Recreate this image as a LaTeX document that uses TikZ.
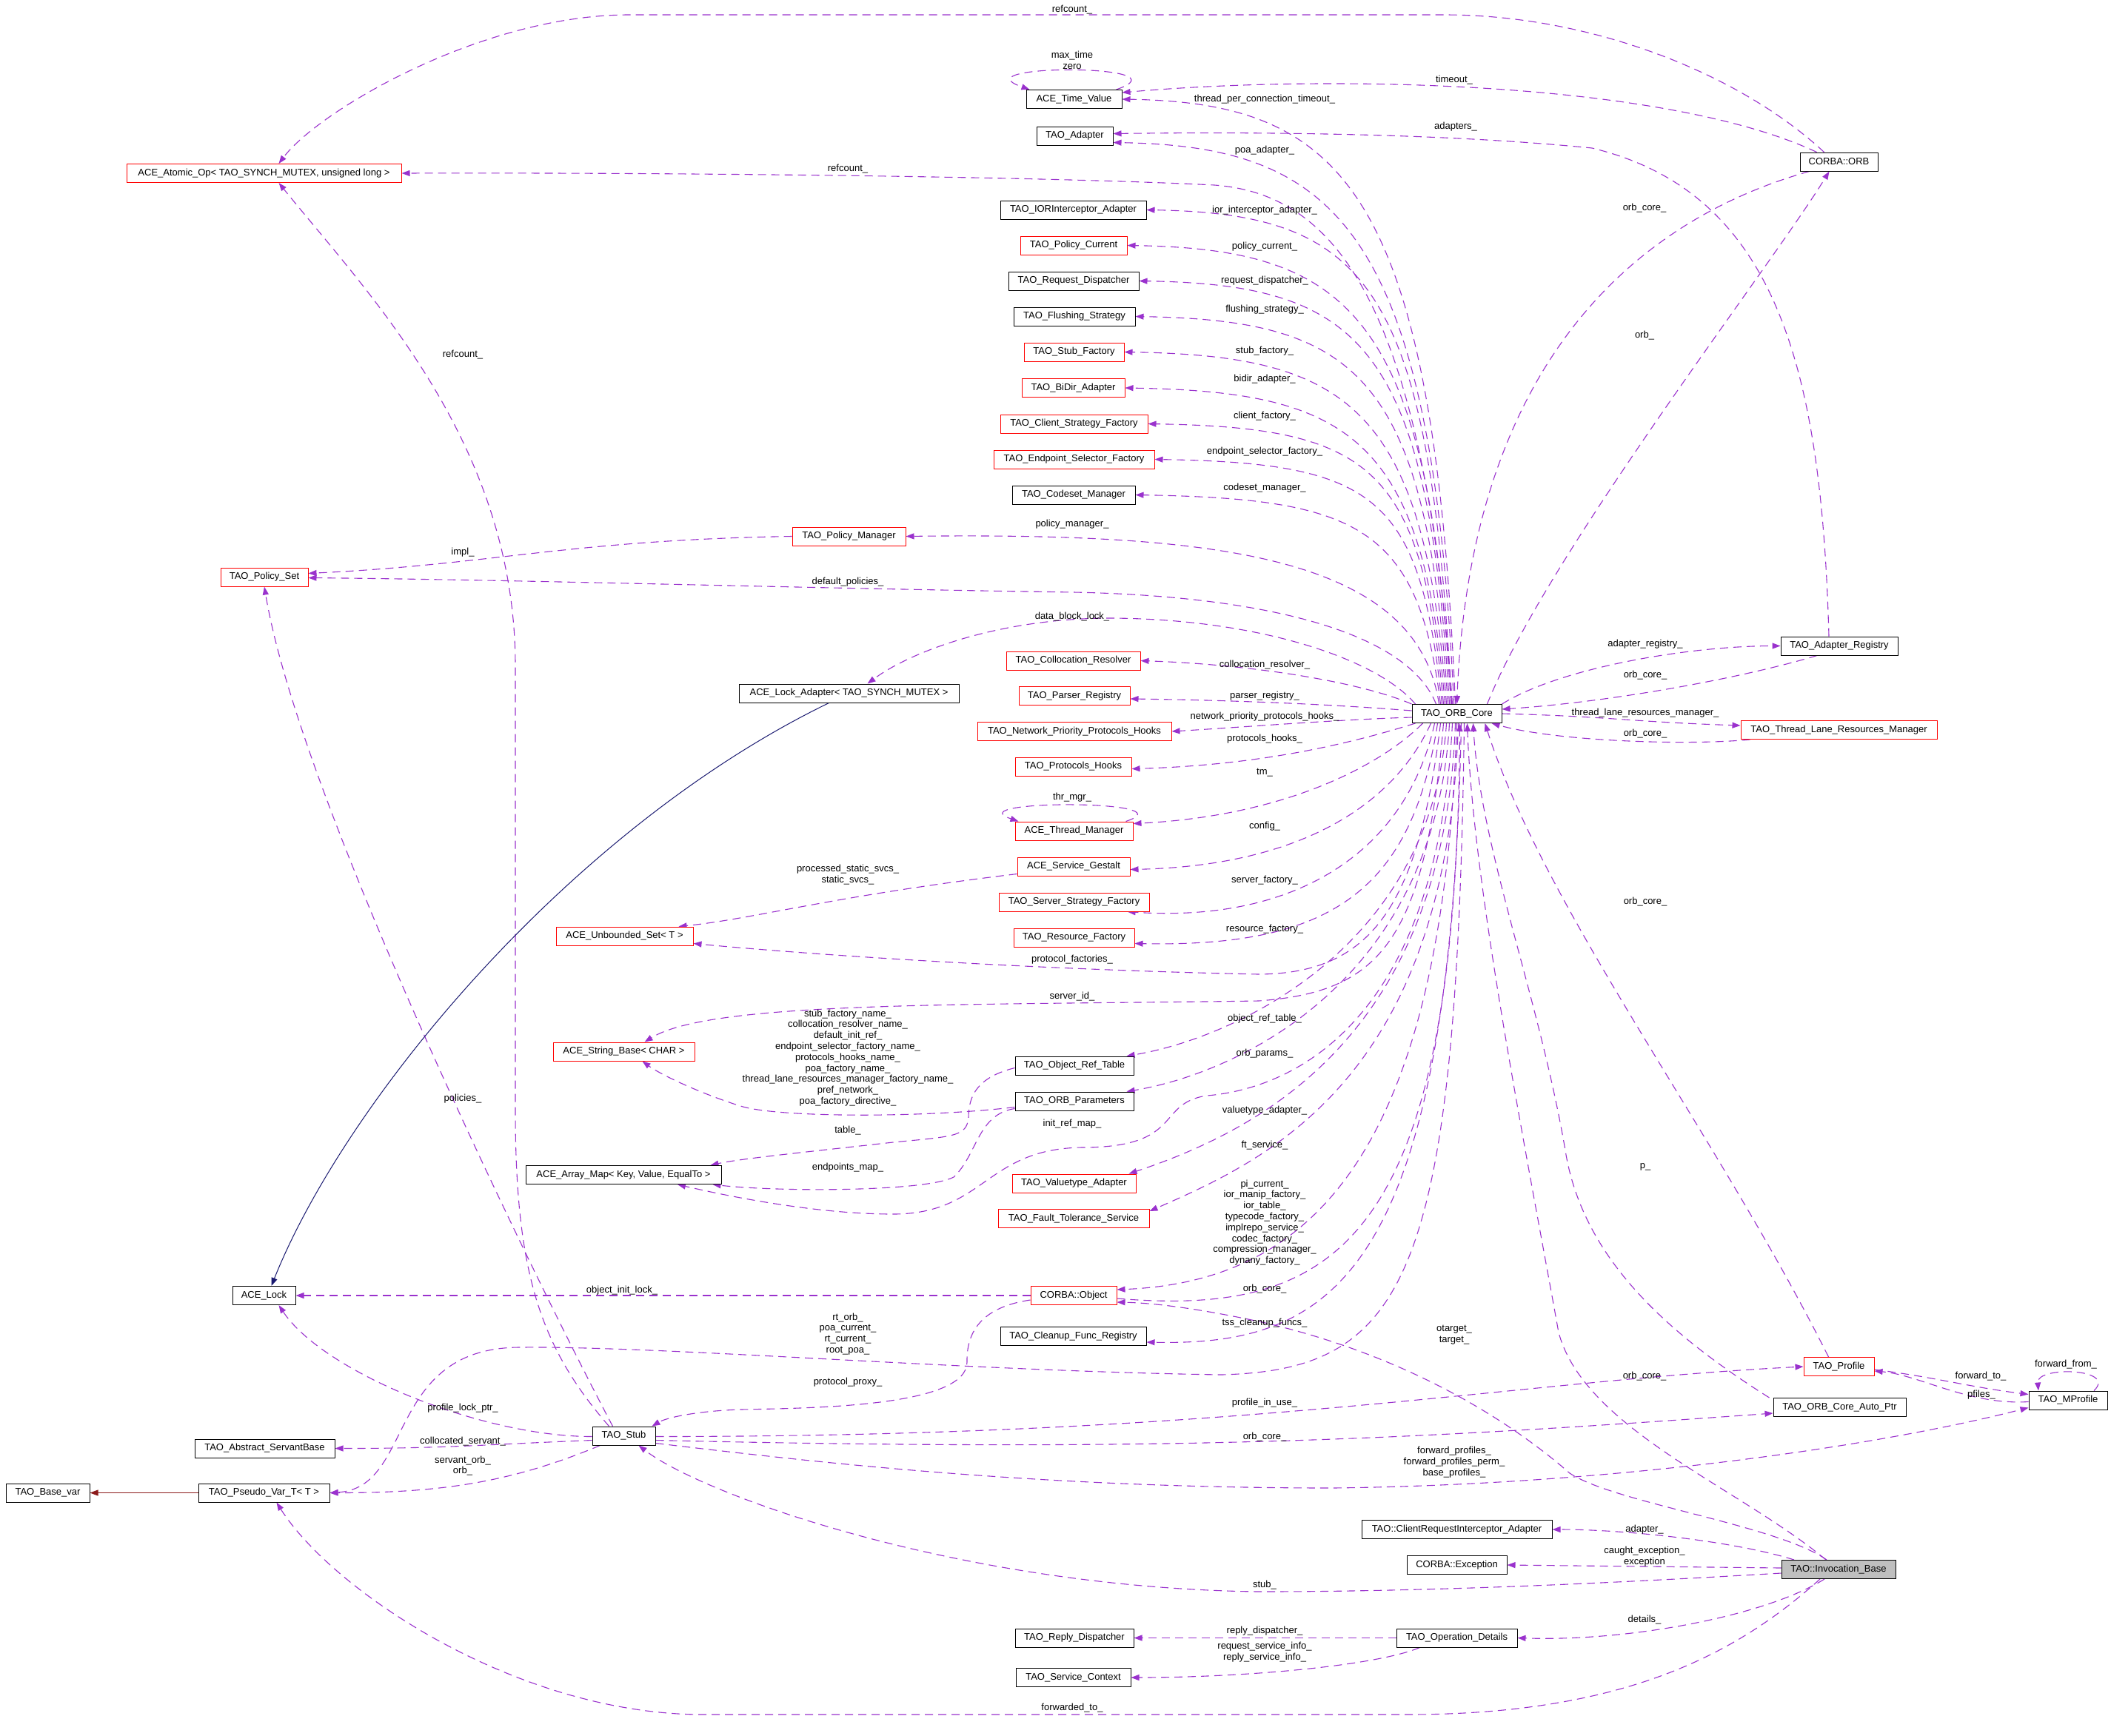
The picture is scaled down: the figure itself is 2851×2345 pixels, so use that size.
\documentclass[tikz,border=0pt]{standalone}
\usepackage{fontspec}
\newfontfamily\dgfont{Liberation Sans}
\usetikzlibrary{arrows.meta,backgrounds}
\definecolor{usecol}{HTML}{9A32CD}
\definecolor{inhcol}{HTML}{191970}
\definecolor{privcol}{HTML}{8B1A1A}
\definecolor{mainfill}{HTML}{BFBFBF}
\newcommand\dgf{\dgfont\fontsize{13}{14.8}\selectfont}
\begin{document}
\begin{tikzpicture}[x=1pt,y=-1pt,
  cls/.style={draw=black, line width=1pt, fill=white, minimum height=25pt, inner sep=0pt, font=\dgf},
  clsr/.style={cls, draw=red},
  usea/.style={draw=usecol, line width=1.1pt, dash pattern=on 11pt off 7pt, -{Triangle[length=11pt,width=8pt]}},
  inha/.style={draw=inhcol, line width=1pt, -{Triangle[length=11pt,width=8pt]}},
  priva/.style={draw=privcol, line width=1pt, -{Triangle[length=11pt,width=8pt]}},
  lab/.style={font=\dgf, inner sep=0pt, align=center}]
\path[use as bounding box] (0,0) rectangle (2851,2345);

% ---------------- nodes ----------------
\node[clsr, minimum width=371pt] (atomic) at (356.5,234) {ACE\_Atomic\_Op< TAO\_SYNCH\_MUTEX, unsigned long >};
\node[clsr, minimum width=118pt] (policyset) at (357,779.5) {TAO\_Policy\_Set};
\node[cls, minimum width=129pt] (timevalue) at (1450.5,134) {ACE\_Time\_Value};
\node[cls, minimum width=103pt] (adapter) at (1451.5,183.5) {TAO\_Adapter};
\node[cls, minimum width=197pt] (iorint) at (1449.5,283.5) {TAO\_IORInterceptor\_Adapter};
\node[clsr, minimum width=144pt] (polcur) at (1450,331.5) {TAO\_Policy\_Current};
\node[cls, minimum width=176pt] (reqdisp) at (1450,379.5) {TAO\_Request\_Dispatcher};
\node[cls, minimum width=164pt] (flush) at (1451,427.5) {TAO\_Flushing\_Strategy};
\node[clsr, minimum width=135pt] (stubfac) at (1450.5,475.5) {TAO\_Stub\_Factory};
\node[clsr, minimum width=139pt] (bidir) at (1449.5,524) {TAO\_BiDir\_Adapter};
\node[clsr, minimum width=199pt] (clientfac) at (1450.5,572.5) {TAO\_Client\_Strategy\_Factory};
\node[clsr, minimum width=217pt] (endpoint) at (1450.5,620.5) {TAO\_Endpoint\_Selector\_Factory};
\node[cls, minimum width=166pt] (codeset) at (1450,668.5) {TAO\_Codeset\_Manager};
\node[clsr, minimum width=153pt] (polmgr) at (1146.5,724.5) {TAO\_Policy\_Manager};
\node[cls, minimum width=105pt] (corbaorb) at (2483.5,218.5) {CORBA::ORB};
\node[cls, minimum width=297pt] (lockadapter) at (1146.5,936.5) {ACE\_Lock\_Adapter< TAO\_SYNCH\_MUTEX >};
\node[clsr, minimum width=181pt] (collres) at (1449.5,892.5) {TAO\_Collocation\_Resolver};
\node[clsr, minimum width=150pt] (parser) at (1451,940) {TAO\_Parser\_Registry};
\node[clsr, minimum width=262pt] (netprio) at (1451,988) {TAO\_Network\_Priority\_Protocols\_Hooks};
\node[clsr, minimum width=157pt] (prothooks) at (1449.5,1035.5) {TAO\_Protocols\_Hooks};
\node[clsr, minimum width=159pt] (thrmgr) at (1450.5,1122.5) {ACE\_Thread\_Manager};
\node[clsr, minimum width=152pt] (gestalt) at (1450,1170.5) {ACE\_Service\_Gestalt};
\node[clsr, minimum width=203pt] (serverfac) at (1450.5,1218.5) {TAO\_Server\_Strategy\_Factory};
\node[clsr, minimum width=163pt] (resfac) at (1450.5,1266.5) {TAO\_Resource\_Factory};
\node[clsr, minimum width=185pt] (unbset) at (843.5,1264.5) {ACE\_Unbounded\_Set< T >};
\node[clsr, minimum width=191pt] (stringbase) at (842.5,1420.5) {ACE\_String\_Base< CHAR >};
\node[cls, minimum width=160pt] (objreftable) at (1451,1439.5) {TAO\_Object\_Ref\_Table};
\node[cls, minimum width=160pt] (orbparams) at (1451,1487.5) {TAO\_ORB\_Parameters};
\node[cls, minimum width=264pt] (arraymap) at (842,1587) {ACE\_Array\_Map< Key, Value, EqualTo >};
\node[clsr, minimum width=167pt] (valuetype) at (1450.5,1598.5) {TAO\_Valuetype\_Adapter};
\node[clsr, minimum width=204pt] (ftservice) at (1450,1646) {TAO\_Fault\_Tolerance\_Service};
\node[cls, minimum width=85pt] (acelock) at (356.5,1750) {ACE\_Lock};
\node[clsr, minimum width=116pt] (corbaobj) at (1450,1750) {CORBA::Object};
\node[cls, minimum width=197pt] (cleanup) at (1449.5,1805) {TAO\_Cleanup\_Func\_Registry};
\node[clsr, minimum width=95pt] (profile) at (2483.5,1846) {TAO\_Profile};
\node[cls, minimum width=106pt] (mprofile) at (2793,1891.5) {TAO\_MProfile};
\node[cls, minimum width=179pt] (autoptr) at (2484.5,1901) {TAO\_ORB\_Core\_Auto\_Ptr};
\node[cls, minimum width=189pt] (abstractservant) at (357.5,1956.5) {TAO\_Abstract\_ServantBase};
\node[cls, minimum width=85pt] (stub) at (842.5,1939.5) {TAO\_Stub};
\node[cls, minimum width=113pt] (basevar) at (64.5,2016.5) {TAO\_Base\_var};
\node[cls, minimum width=177pt] (pseudovar) at (356.5,2016.5) {TAO\_Pseudo\_Var\_T< T >};
\node[cls, minimum width=257pt] (clientreq) at (1967.5,2066) {TAO::ClientRequestInterceptor\_Adapter};
\node[cls, minimum width=135pt] (exception) at (1967.5,2114) {CORBA::Exception};
\node[cls, minimum width=154pt, fill=mainfill] (invocation) at (2483,2120) {TAO::Invocation\_Base};
\node[cls, minimum width=163pt] (opdetails) at (1967.5,2212.5) {TAO\_Operation\_Details};
\node[cls, minimum width=160pt] (replydisp) at (1451,2212.5) {TAO\_Reply\_Dispatcher};
\node[cls, minimum width=155pt] (servicectx) at (1449.5,2266) {TAO\_Service\_Context};
\node[cls, minimum width=121pt] (orbcore) at (1967.5,964) {TAO\_ORB\_Core};
\node[cls, minimum width=158pt] (adapterreg) at (2484,872.5) {TAO\_Adapter\_Registry};
\node[clsr, minimum width=265pt] (tlrm) at (2483.5,986) {TAO\_Thread\_Lane\_Resources\_Manager};

% ---------------- edges ----------------
\begin{pgfonlayer}{background}
% from ORB_Core, upper fan
\draw[usea] ([xshift=-2pt]orbcore.north) .. controls +(-30,-694) and +(300,5) .. (timevalue.east);
\draw[usea] ([xshift=-4pt]orbcore.north) .. controls +(-30,-645) and +(300,5) .. ([yshift=-9pt]adapter.east);
\draw[usea] ([xshift=-6pt]orbcore.north) .. controls +(-40,-550) and (1800,262) .. (1640,250) .. controls (1400,238) and (900,233) .. (atomic.east);
\draw[usea] ([xshift=-7pt]orbcore.north) .. controls +(-30,-567) and +(300,5) .. (iorint.east);
\draw[usea] ([xshift=-8pt]orbcore.north) .. controls +(-30,-527) and +(300,5) .. (polcur.east);
\draw[usea] ([xshift=-10pt]orbcore.north) .. controls +(-30,-486) and +(300,5) .. (reqdisp.east);
\draw[usea] ([xshift=-12pt]orbcore.north) .. controls +(-30,-445) and +(300,5) .. (flush.east);
\draw[usea] ([xshift=-14pt]orbcore.north) .. controls +(-30,-404) and +(300,5) .. (stubfac.east);
\draw[usea] ([xshift=-16pt]orbcore.north) .. controls +(-30,-363) and +(300,5) .. (bidir.east);
\draw[usea] ([xshift=-18pt]orbcore.north) .. controls +(-30,-322) and +(300,5) .. (clientfac.east);
\draw[usea] ([xshift=-20pt]orbcore.north) .. controls +(-30,-281) and +(300,5) .. (endpoint.east);
\draw[usea] ([xshift=-22pt]orbcore.north) .. controls +(-30,-240) and +(300,5) .. (codeset.east);
\draw[usea] ([xshift=-24pt]orbcore.north) .. controls +(-30,-200) and +(420,-5) .. (polmgr.east);
\draw[usea] ([xshift=-28pt]orbcore.north) .. controls +(-40,-100) and (1700,805) .. (1450,800) .. controls (1100,795) and (700,783) .. ([yshift=-1pt]policyset.east);
\draw[usea] ([xshift=5pt]orbcore.north west) .. controls (1860,890) and (1700,836) .. (1500,835) .. controls (1350,835) and (1230,880) .. ([xshift=25pt]lockadapter.north);
\draw[usea] (polmgr.west) .. controls +(-300,5) and +(250,-12) .. ([yshift=5pt]policyset.east);
% ORB_Core and CORBA::ORB
\draw[usea] ([xshift=-20pt]orbcore.north east) .. controls +(80,-200) and +(-80,130) .. ([xshift=-13pt]corbaorb.south);
\draw[usea] ([xshift=-40pt]corbaorb.south) .. controls (2200,300) and (1985,500) .. (orbcore.north);
\draw[usea] ([xshift=-20pt]corbaorb.north) .. controls (2350,100) and (2150,20) .. (1950,20) -- (850,20) .. controls (650,20) and (430,150) .. ([xshift=20pt]atomic.north);
\draw[usea] ([xshift=-30pt]corbaorb.north) .. controls (2250,110) and (1800,100) .. ([yshift=9pt]timevalue.east);
\draw[usea] ([xshift=-14pt]adapterreg.north) .. controls (2460,500) and (2400,260) .. (2150,200) .. controls (1950,180) and (1700,178) .. ([yshift=3pt]adapter.east);
% self loops
\draw[usea] ([xshift=-8pt]timevalue.north east) .. controls (1610,86) and (1290,86) .. ([xshift=5pt]timevalue.north west);
\draw[usea] ([xshift=-10pt]thrmgr.north east) .. controls (1610,1080) and (1290,1080) .. ([xshift=5pt]thrmgr.north west);
\draw[usea] ([xshift=35pt]mprofile.north) .. controls (2860,1848) and (2750,1845) .. ([xshift=-40pt]mprofile.north);
% adapter registry / thread lane
\draw[usea] (orbcore.north east) .. controls +(80,-50) and +(-120,0) .. (adapterreg.west);
\draw[usea] ([xshift=-30pt]adapterreg.south) .. controls +(-100,30) and +(150,-10) .. ([yshift=6pt]orbcore.east);
\draw[usea] (orbcore.east) .. controls +(150,4) and +(-150,-5) .. ([yshift=6pt]tlrm.west);
\draw[usea] ([xshift=-120pt]tlrm.south) .. controls +(-80,8) and +(90,25) .. ([xshift=-14pt]orbcore.south east);
% ORB_Core side / lower fan
\draw[usea] (orbcore.north west) .. controls +(-70,-30) and +(150,5) .. (collres.east);
\draw[usea] ([yshift=4pt]orbcore.west) .. controls +(-100,-8) and +(150,2) .. ([yshift=-4pt]parser.east);
\draw[usea] ([yshift=-5pt]orbcore.west) .. controls +(-100,3) and +(100,-6) .. (netprio.east);
\draw[usea] ([xshift=5pt]orbcore.south west) .. controls +(-80,25) and +(180,-5) .. ([yshift=-3pt]prothooks.east);
\draw[usea] ([xshift=15pt]orbcore.south west) .. controls +(-60,60) and +(200,-10) .. ([yshift=10pt]thrmgr.east);
\draw[usea] ([xshift=-35pt]orbcore.south) .. controls +(-50,110) and +(230,-5) .. ([yshift=-4pt]gestalt.east);
\draw[usea] ([xshift=-30pt]orbcore.south) .. controls +(-40,180) and +(220,15) .. ([xshift=-30pt]serverfac.south east);
\draw[usea] ([xshift=-26pt]orbcore.south) .. controls +(-35,230) and +(260,5) .. ([yshift=-8pt]resfac.east);
\draw[usea] ([xshift=-22pt]orbcore.south) .. controls +(-30,250) and (1850,1315) .. (1700,1316) .. controls (1400,1310) and (1100,1290) .. ([yshift=-10pt]unbset.east);
\draw[usea] ([yshift=-10pt]gestalt.west) .. controls +(-250,30) and +(100,-10) .. ([xshift=-20pt]unbset.north east);
\draw[usea] ([xshift=-18pt]orbcore.south) .. controls +(-25,300) and (1860,1340) .. (1700,1352) .. controls (1300,1358) and (960,1352) .. ([xshift=28pt]stringbase.north);
\draw[usea] ([xshift=-14pt]orbcore.south) .. controls +(-20,300) and +(150,-25) .. ([xshift=-10pt]objreftable.north east);
\draw[usea] ([xshift=-10pt]orbcore.south) .. controls +(-20,350) and +(150,-25) .. ([xshift=-10pt]orbparams.north east);
\draw[usea] ([xshift=-6pt]orbcore.south) .. controls +(-20,400) and (1750,1470) .. (1630,1480) .. controls (1560,1490) and (1600,1550) .. (1461,1550) .. controls (1330,1552) and (1330,1640) .. (1206,1640) .. controls (1100,1640) and (980,1615) .. ([xshift=73pt]arraymap.south);
\draw[usea] ([yshift=-10pt]orbparams.west) .. controls (1320,1505) and (1320,1560) .. (1288,1590) .. controls (1250,1610) and (1050,1610) .. ([xshift=-12pt]arraymap.south east);
\draw[usea] ([yshift=-3pt]objreftable.west) .. controls (1320,1455) and (1308,1480) .. (1308,1510) .. controls (1305,1535) and (1290,1535) .. (1206,1543) .. controls (1100,1555) and (1000,1565) .. ([xshift=-15pt]arraymap.north east);
\draw[usea] ([yshift=-8pt]orbparams.west) .. controls (1250,1510) and (1050,1510) .. (1000,1494) .. controls (940,1475) and (890,1450) .. ([xshift=25pt]stringbase.south);
\draw[usea] ([xshift=-2pt]orbcore.south) .. controls +(-15,420) and +(180,-60) .. ([xshift=-10pt]valuetype.north east);
\draw[usea] ([xshift=2pt]orbcore.south) .. controls +(-15,480) and +(160,-70) .. ([yshift=10pt]ftservice.east);
\draw[usea] (orbcore.south) .. controls +(-20,600) and +(250,-10) .. ([yshift=8pt]corbaobj.east);
\draw[usea] ([yshift=-4pt]corbaobj.east) .. controls +(300,25) and +(-5,700) .. ([xshift=4pt]orbcore.south);
\draw[usea] ([xshift=6pt]orbcore.south) .. controls +(-15,750) and +(250,5) .. ([yshift=-8pt]cleanup.east);
\draw[usea] ([xshift=10pt]orbcore.south) .. controls +(-10,750) and (1900,1850) .. (1650,1857) .. controls (1300,1852) and (900,1818) .. (700,1820) .. controls (520,1822) and (560,2010) .. (pseudovar.east);
\draw[usea] ([xshift=-95pt]autoptr.north) .. controls (2250,1800) and (2140,1700) .. (2115,1560) .. controls (2080,1350) and (2000,1150) .. ([xshift=22pt]orbcore.south);
\draw[usea] ([xshift=-14pt]profile.north) .. controls +(-150,-300) and +(80,250) .. ([xshift=38pt]orbcore.south);
\draw[usea] ([xshift=-17pt]invocation.north) .. controls (2350,2010) and (2140,1930) .. (2105,1800) .. controls (2060,1550) and (1990,1200) .. ([xshift=14pt]orbcore.south);
% CORBA::Object
\draw[usea] (corbaobj.west) -- (acelock.east);
\draw[usea] ([yshift=-6pt]corbaobj.west) .. controls (1330,1765) and (1305,1795) .. (1306,1840) .. controls (1306,1900) and (1100,1902) .. (1000,1904) .. controls (940,1906) and (900,1915) .. ([xshift=-5pt]stub.north east);
% TAO_Stub
\draw[usea] ([yshift=-1pt]stub.east) .. controls +(800,0) and +(-400,20) .. (profile.west);
\draw[usea] ([yshift=-6pt]stub.east) .. controls +(700,16) and +(-500,36) .. ([yshift=-8pt]autoptr.west);
\draw[usea] ([yshift=-10pt]stub.east) .. controls (1100,1975) and (1400,2010) .. (1800,2010) .. controls (2200,2005) and (2550,1950) .. ([yshift=-10pt]mprofile.west);
\draw[usea] ([yshift=-1pt]stub.west) .. controls +(-150,0) and +(60,90) .. ([xshift=20pt]acelock.south);
\draw[usea] ([yshift=-6pt]stub.west) .. controls +(-150,6) and +(150,0) .. (abstractservant.east);
\draw[usea] ([xshift=-32pt]stub.south) .. controls +(-120,50) and +(150,0) .. (pseudovar.east);
\draw[usea] ([xshift=-15pt]stub.north) .. controls +(-80,-150) and +(50,300) .. (policyset.south);
\draw[usea] ([xshift=-20pt]stub.north) .. controls (730,1820) and (696,1720) .. (696,1500) -- (696,900) .. controls (696,600) and (500,400) .. ([xshift=20pt]atomic.south);
% inheritance
\draw[inha] ([xshift=-27pt]lockadapter.south) .. controls +(-350,170) and +(100,-250) .. ([xshift=10pt]acelock.north);
\draw[priva] (pseudovar.west) -- (basevar.east);
% Invocation_Base
\draw[usea] ([xshift=-60pt]invocation.north) .. controls +(-80,-25) and +(100,0) .. (clientreq.east);
\draw[usea] ([yshift=2pt]invocation.west) -- (exception.east);
\draw[usea] ([yshift=-5pt]invocation.west) .. controls (2200,2137) and (1950,2150) .. (1700,2150) .. controls (1300,2145) and (950,2020) .. ([xshift=20pt]stub.south);
\draw[usea] ([xshift=-19pt]invocation.south) .. controls +(-80,50) and +(150,5) .. (opdetails.east);
\draw[usea] ([xshift=-25pt]invocation.south) .. controls (2350,2230) and (2200,2316) .. (1900,2316) -- (950,2316) .. controls (700,2316) and (450,2150) .. ([xshift=17pt]pseudovar.south);
\draw[usea] ([xshift=-16pt]invocation.north) .. controls (2400,2060) and (2180,2030) .. (2120,1990) .. controls (2040,1920) and (1900,1830) .. (1700,1785) .. controls (1620,1768) and (1560,1760) .. ([yshift=-9pt]corbaobj.east);
% Operation details
\draw[usea] (opdetails.west) -- (replydisp.east);
\draw[usea] ([xshift=-50pt]opdetails.south) .. controls +(-60,25) and +(150,0) .. (servicectx.east);
% Profiles
\draw[usea] ([yshift=-4pt]profile.east) .. controls +(80,10) and +(-80,-10) .. ([yshift=8pt]mprofile.west);
\draw[usea] ([yshift=-2pt]mprofile.west) .. controls +(-80,5) and +(60,5) .. ([yshift=-6pt]profile.east);
\end{pgfonlayer}

% ---------------- labels ----------------
\node[lab] (l1) at (1448,13) {refcount\_};
\node[lab] (l2) at (1448,81) {max\_time\\zero};
\node[lab] (l3) at (1964,108) {timeout\_};
\node[lab] (l4) at (1708,134) {thread\_per\_connection\_timeout\_};
\node[lab] (l5) at (1966,171) {adapters\_};
\node[lab] (l6) at (1708,203) {poa\_adapter\_};
\node[lab] (l7) at (1145,228) {refcount\_};
\node[lab] (l8) at (1708,284) {ior\_interceptor\_adapter\_};
\node[lab] (l9) at (2221,281) {orb\_core\_};
\node[lab] (l10) at (1708,333) {policy\_current\_};
\node[lab] (l11) at (1708,379) {request\_dispatcher\_};
\node[lab] (l12) at (1708,418) {flushing\_strategy\_};
\node[lab] (l13) at (2221,453) {orb\_};
\node[lab] (l14) at (625,479) {refcount\_};
\node[lab] (l15) at (1708,474) {stub\_factory\_};
\node[lab] (l16) at (1708,512) {bidir\_adapter\_};
\node[lab] (l17) at (1708,562) {client\_factory\_};
\node[lab] (l18) at (1708,610) {endpoint\_selector\_factory\_};
\node[lab] (l19) at (1708,659) {codeset\_manager\_};
\node[lab] (l20) at (1448,708) {policy\_manager\_};
\node[lab] (l21) at (625,746) {impl\_};
\node[lab] (l22) at (1145,786) {default\_policies\_};
\node[lab] (l23) at (1448,833) {data\_block\_lock\_};
\node[lab] (l24) at (2222,870) {adapter\_registry\_};
\node[lab] (l25) at (1708,898) {collocation\_resolver\_};
\node[lab] (l26) at (2222,912) {orb\_core\_};
\node[lab] (l27) at (1708,940) {parser\_registry\_};
\node[lab] (l28) at (2222,963) {thread\_lane\_resources\_manager\_};
\node[lab] (l29) at (1708,968) {network\_priority\_protocols\_hooks\_};
\node[lab] (l30) at (2222,991) {orb\_core\_};
\node[lab] (l31) at (1708,998) {protocols\_hooks\_};
\node[lab] (l32) at (1708,1044) {tm\_};
\node[lab] (l33) at (1448,1077) {thr\_mgr\_};
\node[lab] (l34) at (1708,1116) {config\_};
\node[lab] (l35) at (1145,1181.5) {processed\_static\_svcs\_\\static\_svcs\_};
\node[lab] (l36) at (1708,1189) {server\_factory\_};
\node[lab] (l37) at (2222,1218) {orb\_core\_};
\node[lab] (l38) at (1708,1255) {resource\_factory\_};
\node[lab] (l39) at (1448,1296) {protocol\_factories\_};
\node[lab] (l40) at (1448,1346) {server\_id\_};
\node[lab] (l41) at (1145,1429) {stub\_factory\_name\_\\collocation\_resolver\_name\_\\default\_init\_ref\_\\endpoint\_selector\_factory\_name\_\\protocols\_hooks\_name\_\\poa\_factory\_name\_\\thread\_lane\_resources\_manager\_factory\_name\_\\pref\_network\_\\poa\_factory\_directive\_};
\node[lab] (l42) at (1708,1376) {object\_ref\_table\_};
\node[lab] (l43) at (1708,1423) {orb\_params\_};
\node[lab] (l44) at (625,1484) {policies\_};
\node[lab] (l45) at (1708,1500) {valuetype\_adapter\_};
\node[lab] (l46) at (1448,1518) {init\_ref\_map\_};
\node[lab] (l47) at (1145,1527) {table\_};
\node[lab] (l48) at (1708,1547) {ft\_service\_};
\node[lab] (l49) at (1145,1577) {endpoints\_map\_};
\node[lab] (l50) at (2222,1576) {p\_};
\node[lab] (l51) at (1708,1651.5) {pi\_current\_\\ior\_manip\_factory\_\\ior\_table\_\\typecode\_factory\_\\implrepo\_service\_\\codec\_factory\_\\compression\_manager\_\\dynany\_factory\_};
\node[lab] (l52) at (1708,1741) {orb\_core\_};
\node[lab] (l53) at (840,1743) {object\_init\_lock\_};
\node[lab] (l54) at (1145,1802) {rt\_orb\_\\poa\_current\_\\rt\_current\_\\root\_poa\_};
\node[lab] (l55) at (1708,1787) {tss\_cleanup\_funcs\_};
\node[lab] (l56) at (1964,1803.5) {otarget\_\\target\_};
\node[lab] (l57) at (2221,1859) {orb\_core\_};
\node[lab] (l58) at (2790,1843) {forward\_from\_};
\node[lab] (l59) at (2675,1859) {forward\_to\_};
\node[lab] (l60) at (1145,1867) {protocol\_proxy\_};
\node[lab] (l61) at (2676,1884) {pfiles\_};
\node[lab] (l62) at (1708,1895) {profile\_in\_use\_};
\node[lab] (l63) at (625,1902) {profile\_lock\_ptr\_};
\node[lab] (l64) at (1708,1941) {orb\_core\_};
\node[lab] (l65) at (625,1947) {collocated\_servant\_};
\node[lab] (l66) at (1964,1975) {forward\_profiles\_\\forward\_profiles\_perm\_\\base\_profiles\_};
\node[lab] (l67) at (625,1980) {servant\_orb\_\\orb\_};
\node[lab] (l68) at (2221,2066) {adapter\_};
\node[lab] (l69) at (2221,2103) {caught\_exception\_\\exception};
\node[lab] (l70) at (1708,2141) {stub\_};
\node[lab] (l71) at (2221,2188) {details\_};
\node[lab] (l72) at (1708,2203) {reply\_dispatcher\_};
\node[lab] (l73) at (1708,2231.5) {request\_service\_info\_\\reply\_service\_info\_};
\node[lab] (l74) at (1448,2307) {forwarded\_to\_};
\end{tikzpicture}
\end{document}
